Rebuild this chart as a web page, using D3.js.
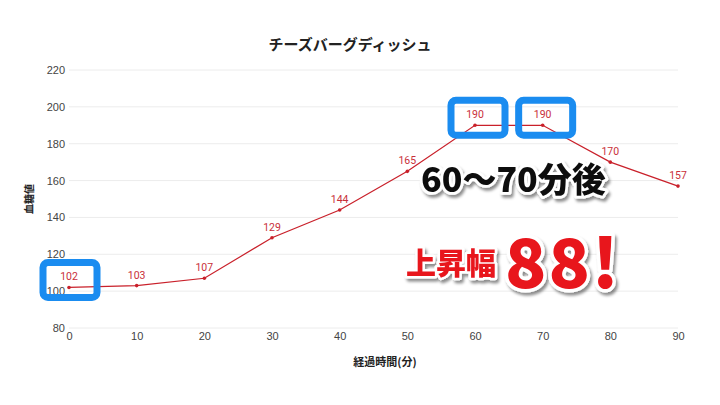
<!DOCTYPE html>
<html>
<head>
<meta charset="utf-8">
<script src="https://cdn.jsdelivr.net/npm/d3@7"></script>
<style>
  body { margin: 0; background: #fff; }
  svg { display: block; font-family: "Noto Sans CJK JP", "Noto Sans", Roboto, sans-serif; }
</style>
</head>
<body>
<div id="chart"></div>
<script>
// data
const minutes = [0, 10, 20, 30, 40, 50, 60, 70, 80, 90];
const glucose = [102, 103, 107, 129, 144, 165, 190, 190, 170, 157];
const yTicks = [80, 100, 120, 140, 160, 180, 200, 220];
const highlighted = [0, 60, 70]; // minutes with a blue box

const width = 720;
const height = 405;
const margin = { top: 70, right: 42, bottom: 77, left: 69 };

const svg = d3.select("#chart").append("svg")
  .attr("width", width)
  .attr("height", height);

const x = d3.scaleLinear().domain([0, 90]).range([margin.left, width - margin.right]);
const y = d3.scaleLinear().domain([80, 220]).range([height - margin.bottom, margin.top]);

// gridlines
svg.append("g")
  .selectAll("line")
  .data(yTicks)
  .join("line")
  .attr("x1", margin.left)
  .attr("x2", width - margin.right)
  .attr("y1", d => y(d))
  .attr("y2", d => y(d))
  .attr("stroke", "#ececec")
  .attr("stroke-width", 1);

// y axis labels
const yAxis = svg.append("g")
  .attr("transform", `translate(${margin.left},0)`)
  .call(d3.axisLeft(y).tickValues(yTicks).tickSize(0).tickPadding(4));
yAxis.select(".domain").remove();
yAxis.selectAll("text").attr("fill", "#444").attr("font-size", 11).attr("font-family", "Liberation Sans, sans-serif");

// x axis labels
const xAxis = svg.append("g")
  .attr("transform", `translate(0,${height - margin.bottom})`)
  .call(d3.axisBottom(x).tickValues(minutes).tickSize(0).tickPadding(4));
xAxis.select(".domain").remove();
xAxis.selectAll("text").attr("fill", "#444").attr("font-size", 11).attr("font-family", "Liberation Sans, sans-serif");

// titles
svg.append("text")
  .attr("x", 350).attr("y", 50)
  .attr("text-anchor", "middle")
  .attr("font-size", 15).attr("font-weight", "bold").attr("fill", "#222")
  .text("チーズバーグディッシュ");

svg.append("text")
  .attr("transform", `translate(33,${y(150)}) rotate(-90)`)
  .attr("text-anchor", "middle")
  .attr("font-size", 10).attr("font-weight", "bold").attr("fill", "#222")
  .text("血糖値");

svg.append("text")
  .attr("x", 385).attr("y", 366)
  .attr("text-anchor", "middle")
  .attr("font-size", 11).attr("font-weight", "bold").attr("fill", "#222")
  .text("経過時間(分)");

// line
const points = minutes.map((m, i) => ({ m, v: glucose[i] }));
svg.append("path")
  .datum(points)
  .attr("fill", "none")
  .attr("stroke", "#c9202a")
  .attr("stroke-width", 1.2)
  .attr("d", d3.line().x(d => x(d.m)).y(d => y(d.v)));

svg.append("g")
  .selectAll("circle")
  .data(points)
  .join("circle")
  .attr("cx", d => x(d.m))
  .attr("cy", d => y(d.v))
  .attr("r", 1.8)
  .attr("fill", "#c9202a");

svg.append("g")
  .selectAll("text")
  .data(points)
  .join("text")
  .attr("x", d => x(d.m))
  .attr("y", d => y(d.v) - 7)
  .attr("text-anchor", "middle")
  .attr("font-size", 10.5)
  .attr("font-family", "Roboto, sans-serif")
  .attr("fill", "#c9303a")
  .text(d => d.v);

// blue highlight boxes
svg.append("g")
  .selectAll("rect")
  .data(points.filter(d => highlighted.includes(d.m)))
  .join("rect")
  .attr("x", d => x(d.m) - 26 + (d.m === 0 ? 0 : 2))
  .attr("y", d => y(d.v) - 25)
  .attr("width", 54)
  .attr("height", 35)
  .attr("rx", 5)
  .attr("fill", "none")
  .attr("stroke", "#1a8cf0")
  .attr("stroke-width", 7);

// annotations
const shadow = svg.append("defs").append("filter").attr("id", "shadow")
  .attr("x", "-10%").attr("y", "-10%").attr("width", "130%").attr("height", "140%");
shadow.append("feDropShadow").attr("dx", 2).attr("dy", 3).attr("stdDeviation", 1.5)
  .attr("flood-color", "#000").attr("flood-opacity", 0.45);

function outlined(xp, yp, size, fill, txt, spacing) {
  svg.append("text")
    .attr("x", xp).attr("y", yp)
    .attr("font-size", size).attr("font-weight", 900)
    .attr("letter-spacing", spacing || 0)
    .attr("fill", fill)
    .attr("stroke", "#fff").attr("stroke-width", Math.min(size / 6, 7))
    .attr("stroke-linejoin", "round")
    .attr("paint-order", "stroke")
    .attr("filter", "url(#shadow)")
    .text(txt);
}

outlined(421, 192, 34, "#111", "60〜70分後");
outlined(406, 274, 30, "#e8141c", "上昇幅");
outlined(505, 288, 68, "#e8141c", "88!", 2);
</script>
</body>
</html>
